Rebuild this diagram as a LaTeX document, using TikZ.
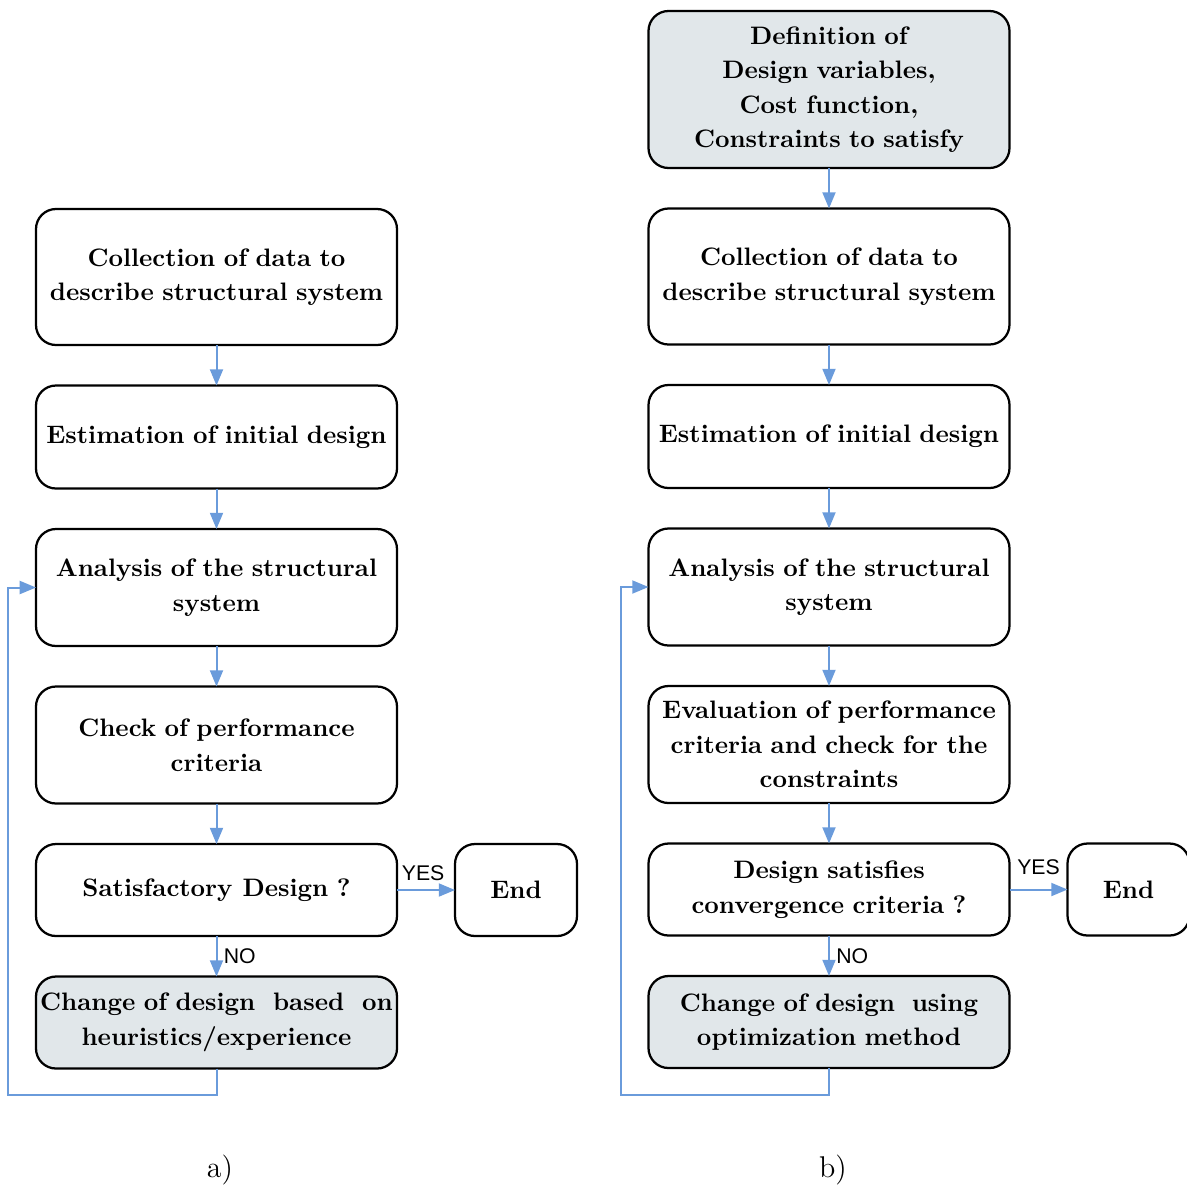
\documentclass[tikz,border=0pt]{standalone}
\usepackage{fontspec}
\newfontfamily\answerfont{Liberation Sans}
\usetikzlibrary{arrows.meta,positioning}
\definecolor{flowblue}{RGB}{106,155,219}
\definecolor{boxgray}{RGB}{225,231,234}

\begin{document}
\begin{tikzpicture}[
    x=0.4pt, y=-0.4pt,
    node distance=16.2pt,
    stage/.style={draw, line width=0.9pt, rounded corners=8pt, outer sep=0pt, minimum width=144.4pt, text width=141pt, inner xsep=1.7pt, inner ysep=2pt, align=center, font=\bfseries\fontsize{10.1}{13.8}\selectfont},
    change/.style={stage, fill=boxgray},
    finish/.style={stage, minimum width=48.8pt, text width=44pt, minimum height=36.8pt},
    flow/.style={flowblue, line width=0.8pt, -{Triangle[length=6.5pt,width=5.2pt]}},
    answer/.style={text=black, font=\answerfont\fontsize{8.5}{9}\selectfont, inner sep=1.5pt},
    caption/.style={font=\fontsize{12}{14}\selectfont}
]
\useasboundingbox (0,0) rectangle (1187,1187);

% a) heuristic design
\node[stage, minimum height=54.4pt] (lcollect) at (216.5,277) {Collection of data to\\describe structural system};
\node[stage, minimum height=41.2pt, below=of lcollect] (lestimate) {Estimation of initial design};
\node[stage, minimum height=46.8pt, below=of lestimate] (lanalysis) {Analysis of the structural\\system};
\node[stage, minimum height=46.8pt, below=of lanalysis] (lcheck) {Check of performance\\criteria};
\node[stage, minimum height=36.8pt, below=of lcheck] (lsatisfy) {Satisfactory\hspace{0.4em}Design ?};
\node[change, minimum height=36.8pt, below=of lsatisfy] (lchange) {Change of design\hfill based\hfill on\\heuristics/experience};
\node[finish, right=23.2pt of lsatisfy] (lend) {End};
\coordinate (lloop) at (8,1095);

\draw[flow] (lcollect) -- (lestimate);
\draw[flow] (lestimate) -- (lanalysis);
\draw[flow] (lanalysis) -- (lcheck);
\draw[flow] (lcheck) -- (lsatisfy);
\draw[flow] (lsatisfy) -- node[answer, right, xshift=1pt] {NO} (lchange);
\draw[flow] (lsatisfy) -- node[answer, above, pos=0.45, yshift=2pt] {YES} (lend);
\draw[flow] (lchange.south) |- (lloop) |- (lanalysis.west);

% b) optimum design
\node[change, minimum height=62.8pt] (rdefine) at (829,89.5) {Definition of\\Design variables,\\Cost function,\\Constraints to satisfy};
\node[stage, minimum height=54.4pt, below=of rdefine] (rcollect) {Collection of data to\\describe structural system};
\node[stage, minimum height=41.2pt, below=of rcollect] (restimate) {Estimation of initial design};
\node[stage, minimum height=46.8pt, below=of restimate] (ranalysis) {Analysis of the structural\\system};
\node[stage, minimum height=46.8pt, below=of ranalysis] (revaluate) {Evaluation of performance\\criteria and check for the\\constraints};
\node[stage, minimum height=36.8pt, below=of revaluate] (rsatisfy) {Design satisfies\\convergence criteria ?};
\node[change, minimum height=36.8pt, below=of rsatisfy] (rchange) {Change of design\ \ using\\optimization method};
\node[finish, right=23.2pt of rsatisfy] (rend) {End};
\coordinate (rloop) at (621,1095);

\draw[flow] (rdefine) -- (rcollect);
\draw[flow] (rcollect) -- (restimate);
\draw[flow] (restimate) -- (ranalysis);
\draw[flow] (ranalysis) -- (revaluate);
\draw[flow] (revaluate) -- (rsatisfy);
\draw[flow] (rsatisfy) -- node[answer, right, xshift=1pt] {NO} (rchange);
\draw[flow] (rsatisfy) -- node[answer, above, yshift=4pt] {YES} (rend);
\draw[flow] (rchange.south) |- (rloop) |- (ranalysis.west);

\node[caption] (acap) at (220,1170) {a)};
\node[caption] (bcap) at (833,1170) {b)};

\end{tikzpicture}
\end{document}
